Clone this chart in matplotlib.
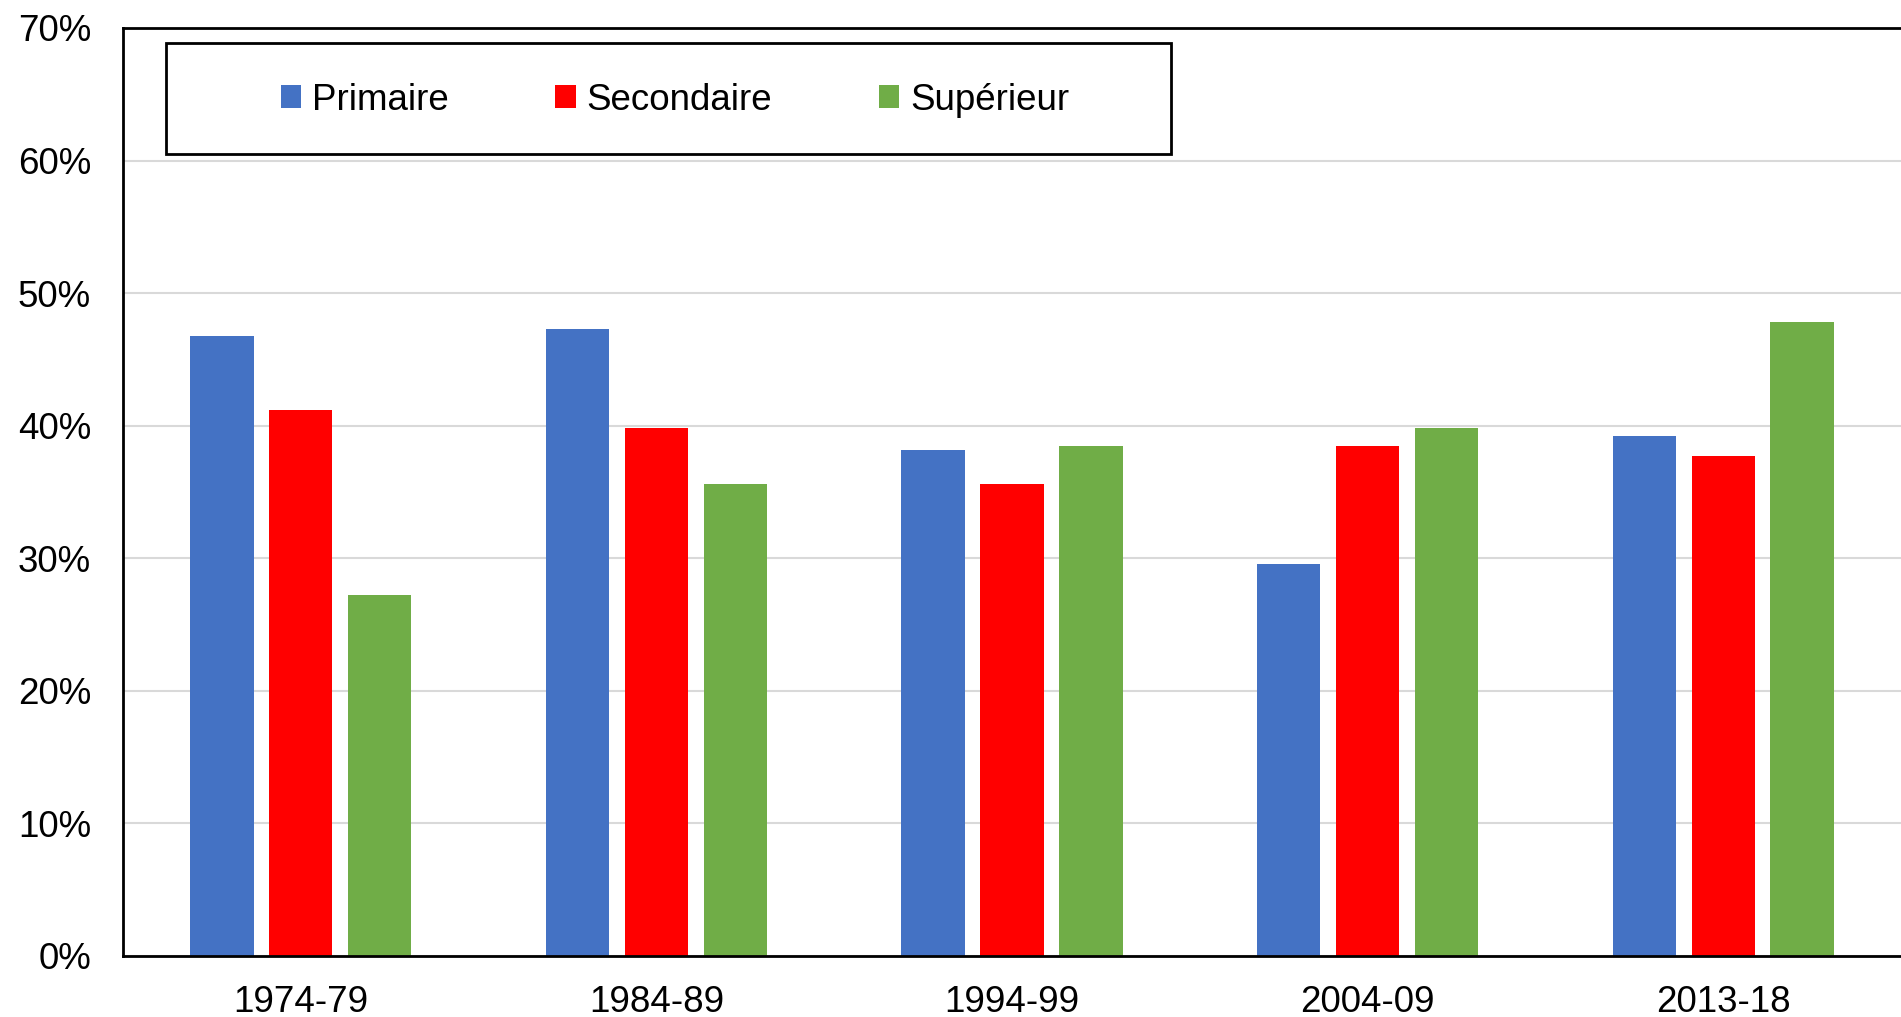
import numpy as np
import matplotlib
matplotlib.use("Agg")
import matplotlib.pyplot as plt
from matplotlib.patches import Patch, Rectangle
from matplotlib.ticker import FuncFormatter

# Data
periods = ["1974-79", "1984-89", "1994-99", "2004-09", "2013-18"]
primaire = [46.8, 47.3, 38.2, 29.6, 39.2]
secondaire = [41.2, 39.8, 35.6, 38.5, 37.7]
superieur = [27.2, 35.6, 38.5, 39.8, 47.8]
series_names = ["Primaire", "Secondaire", "Supérieur"]
colors = ["#4472C4", "#FF0000", "#70AD47"]

plt.rcParams['font.family'] = ['Liberation Sans', 'DejaVu Sans']

fig = plt.figure(figsize=(19.01, 10.17), dpi=100)
ax = fig.add_axes([0.0647, 0.06, 0.9353, 0.9125])

x = np.arange(len(periods))
width = 0.178
step = 0.222
for i, (vals, col) in enumerate(zip([primaire, secondaire, superieur], colors)):
    ax.bar(x + (i - 1) * step, vals, width, color=col, zorder=3)

ax.set_xlim(-0.5, len(periods) - 0.5)
ax.set_ylim(0, 70)
ax.set_yticks(np.arange(0, 71, 10))
ax.yaxis.set_major_formatter(FuncFormatter(lambda v, p: f"{v:.0f}%"))
ax.set_xticks(x)
ax.set_xticklabels(periods)
ax.tick_params(axis='both', length=0, labelsize=26.5)
ax.tick_params(axis='y', pad=23)
ax.tick_params(axis='x', pad=21)

ax.grid(axis='y', color='#d9d9d9', linewidth=1.5, zorder=0)
for side in ['left', 'bottom', 'top']:
    ax.spines[side].set_color('black')
    ax.spines[side].set_linewidth(2)
    ax.spines[side].set_zorder(4)
ax.spines['right'].set_visible(False)

# legend with its own frame box
fw, fh = 1901, 1017
rect = Rectangle((166 / fw, 1 - 154 / fh), (1171 - 166) / fw, (154 - 43) / fh,
                 transform=fig.transFigure, fill=False, edgecolor='black',
                 linewidth=2, zorder=10)
fig.patches.append(rect)

handles = [Patch(facecolor=c, edgecolor='none') for c in colors]
fig.legend(handles, series_names, loc='center',
           bbox_to_anchor=(675 / fw, 1 - 100 / fh), ncol=3, frameon=False,
           fontsize=26.5, handlelength=0.55, handleheight=0.55,
           handletextpad=0.3, columnspacing=2.9)

fig.savefig("out.png", dpi=100)
